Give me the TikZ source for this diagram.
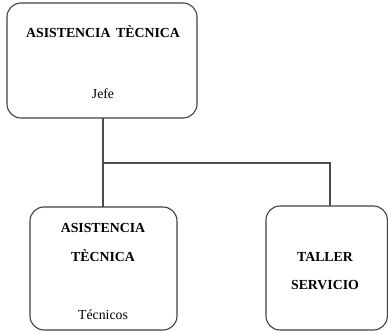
\documentclass[tikz,border=0pt]{standalone}
\usepackage{fontspec}
\setmainfont{Liberation Serif}
\begin{document}
\begin{tikzpicture}[x=1pt,y=-1pt,
  box/.style={draw=black!75,line width=1.1pt,rounded corners=14pt},
  link/.style={draw=black!70,line width=1.1pt},
  lbl/.style={font=\fontsize{13.8}{16}\selectfont\bfseries,inner sep=0pt,anchor=base},
  sub/.style={font=\fontsize{13.8}{16}\selectfont,inner sep=0pt,anchor=base}]
\useasboundingbox (0,0) rectangle (388,331);
% boxes
\draw[box] (7,3) rectangle (197,118);
\draw[box] (30,207) rectangle (177,330);
\draw[box] (266,206) rectangle (387.4,330);
\coordinate (top) at (103,118);
\coordinate (left) at (103,207);
\coordinate (right) at (330,206);
\coordinate (bar) at (103,163);
% texts
\node[lbl] (t1) at (103,38) {ASISTENCIA\, TÈCNICA};
\node[sub] (t2) at (103,99) {Jefe};
\node[lbl] (t3) at (103,232) {ASISTENCIA};
\node[lbl] (t4) at (103,261) {TÈCNICA};
\node[sub] (t5) at (103,319) {Técnicos};
\node[lbl] (t6) at (325,261) {TALLER};
\node[lbl] (t7) at (325,289) {SERVICIO};
% connectors
\draw[link] (top) -- (left);
\draw[link] (bar) -| (right);
\end{tikzpicture}
\end{document}
